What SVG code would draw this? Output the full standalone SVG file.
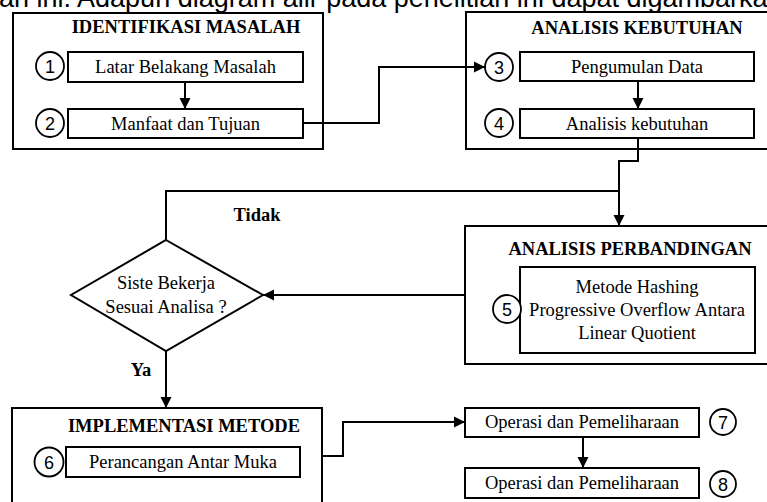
<svg xmlns="http://www.w3.org/2000/svg" width="767" height="502" viewBox="0 0 767 502">
<style>
.box{fill:#fff;stroke:#000;stroke-width:2}
.inner{fill:#fff;stroke:#000;stroke-width:2}
.num{fill:#fff;stroke:#000;stroke-width:1.8}
.title{font-family:"Liberation Serif","Times New Roman",serif;font-weight:bold;font-size:18.5px;text-anchor:middle;fill:#000}
.lbl{font-family:"Liberation Serif","Times New Roman",serif;font-size:18.5px;text-anchor:middle;fill:#000}
.n{font-family:"Liberation Sans",Arial,sans-serif;font-size:18px;text-anchor:middle;fill:#000}
.conn{fill:none;stroke:#000;stroke-width:2}
</style>
<defs>
<marker id="arr" markerUnits="userSpaceOnUse" markerWidth="12" markerHeight="12" refX="11" refY="6" orient="auto">
<path d="M0,0.5 L11,6 L0,11.5 z" fill="#000"/>
</marker>
</defs>
<rect width="767" height="502" fill="#fff"/>
<text x="-1" y="6.5" font-family="Liberation Sans, Arial, sans-serif" font-size="27" fill="#000">an ini. Adapun diagram alir pada penelitian ini dapat digambarkan</text>

<g id="identifikasi">
<rect class="box" x="13" y="13" width="310" height="136"/>
<text class="title" x="186" y="33">IDENTIFIKASI MASALAH</text>
</g>
<g id="node1">
<rect class="inner" x="68" y="52" width="235" height="30"/>
<text class="lbl" x="185.5" y="73">Latar Belakang Masalah</text>
<circle class="num" cx="50" cy="66" r="14"/>
<text class="n" x="50" y="72.5">1</text>
</g>
<g id="node2">
<rect class="inner" x="68" y="109" width="235" height="29"/>
<text class="lbl" x="185.5" y="130">Manfaat dan Tujuan</text>
<circle class="num" cx="50" cy="123" r="14"/>
<text class="n" x="50" y="129.5">2</text>
</g>

<g id="kebutuhan">
<rect class="box" x="466" y="12" width="306" height="137"/>
<text class="title" x="637" y="34">ANALISIS KEBUTUHAN</text>
</g>
<g id="node3">
<rect class="inner" x="520" y="52" width="234" height="29"/>
<text class="lbl" x="637" y="73">Pengumulan Data</text>
<circle class="num" cx="499" cy="67" r="14"/>
<text class="n" x="499" y="73.5">3</text>
</g>
<g id="node4">
<rect class="inner" x="520" y="109" width="234" height="29"/>
<text class="lbl" x="637" y="130">Analisis kebutuhan</text>
<circle class="num" cx="499" cy="123" r="14"/>
<text class="n" x="499" y="129.5">4</text>
</g>

<g id="perbandingan">
<rect class="box" x="465" y="226" width="307" height="138"/>
<text class="title" x="630" y="255">ANALISIS PERBANDINGAN</text>
</g>
<g id="node5">
<rect class="inner" x="520" y="267" width="235" height="86"/>
<text class="lbl" x="637" y="293">Metode Hashing</text>
<text class="lbl" x="637" y="316">Progressive Overflow Antara</text>
<text class="lbl" x="637" y="339">Linear Quotient</text>
<circle class="num" cx="507" cy="309" r="14"/>
<text class="n" x="507" y="315.5">5</text>
</g>

<g id="decision">
<polygon class="box" points="166,240 263,295 166,351 71,295"/>
<text class="lbl" x="166" y="289">Siste Bekerja</text>
<text class="lbl" x="166" y="313">Sesuai Analisa ?</text>
</g>

<g id="implementasi">
<rect class="box" x="12" y="408" width="310" height="110"/>
<text class="title" x="184" y="432">IMPLEMENTASI METODE</text>
</g>
<g id="node6">
<rect class="inner" x="66" y="447" width="234" height="30"/>
<text class="lbl" x="183" y="467.5">Perancangan Antar Muka</text>
<circle class="num" cx="49" cy="462" r="14.5"/>
<text class="n" x="49" y="468.5">6</text>
</g>

<g id="node7">
<rect class="inner" x="465" y="408" width="234" height="29"/>
<text class="lbl" x="582" y="428">Operasi dan Pemeliharaan</text>
<circle class="num" cx="723" cy="422" r="13"/>
<text class="n" x="723" y="428.5">7</text>
</g>
<g id="node8">
<rect class="inner" x="465" y="468" width="234" height="30"/>
<text class="lbl" x="582" y="489">Operasi dan Pemeliharaan</text>
<circle class="num" cx="723" cy="484" r="13"/>
<text class="n" x="723" y="490.5">8</text>
</g>

<g id="connectors">
<path class="conn" d="M185,82 V109" marker-end="url(#arr)"/>
<path class="conn" d="M303,123 H379 V67 H485" marker-end="url(#arr)"/>
<path class="conn" d="M638,81 V109" marker-end="url(#arr)"/>
<path class="conn" d="M638,138 V161 H619 V226" marker-end="url(#arr)"/>
<path class="conn" d="M166,240 V191 H619"/>
<path class="conn" d="M465,295 H263" marker-end="url(#arr)"/>
<path class="conn" d="M166,351 V408" marker-end="url(#arr)"/>
<path class="conn" d="M322,456 H343 V422 H465" marker-end="url(#arr)"/>
<path class="conn" d="M583,437 V468" marker-end="url(#arr)"/>
<text class="title" x="257" y="221">Tidak</text>
<text class="title" x="141" y="376">Ya</text>
</g>
</svg>
